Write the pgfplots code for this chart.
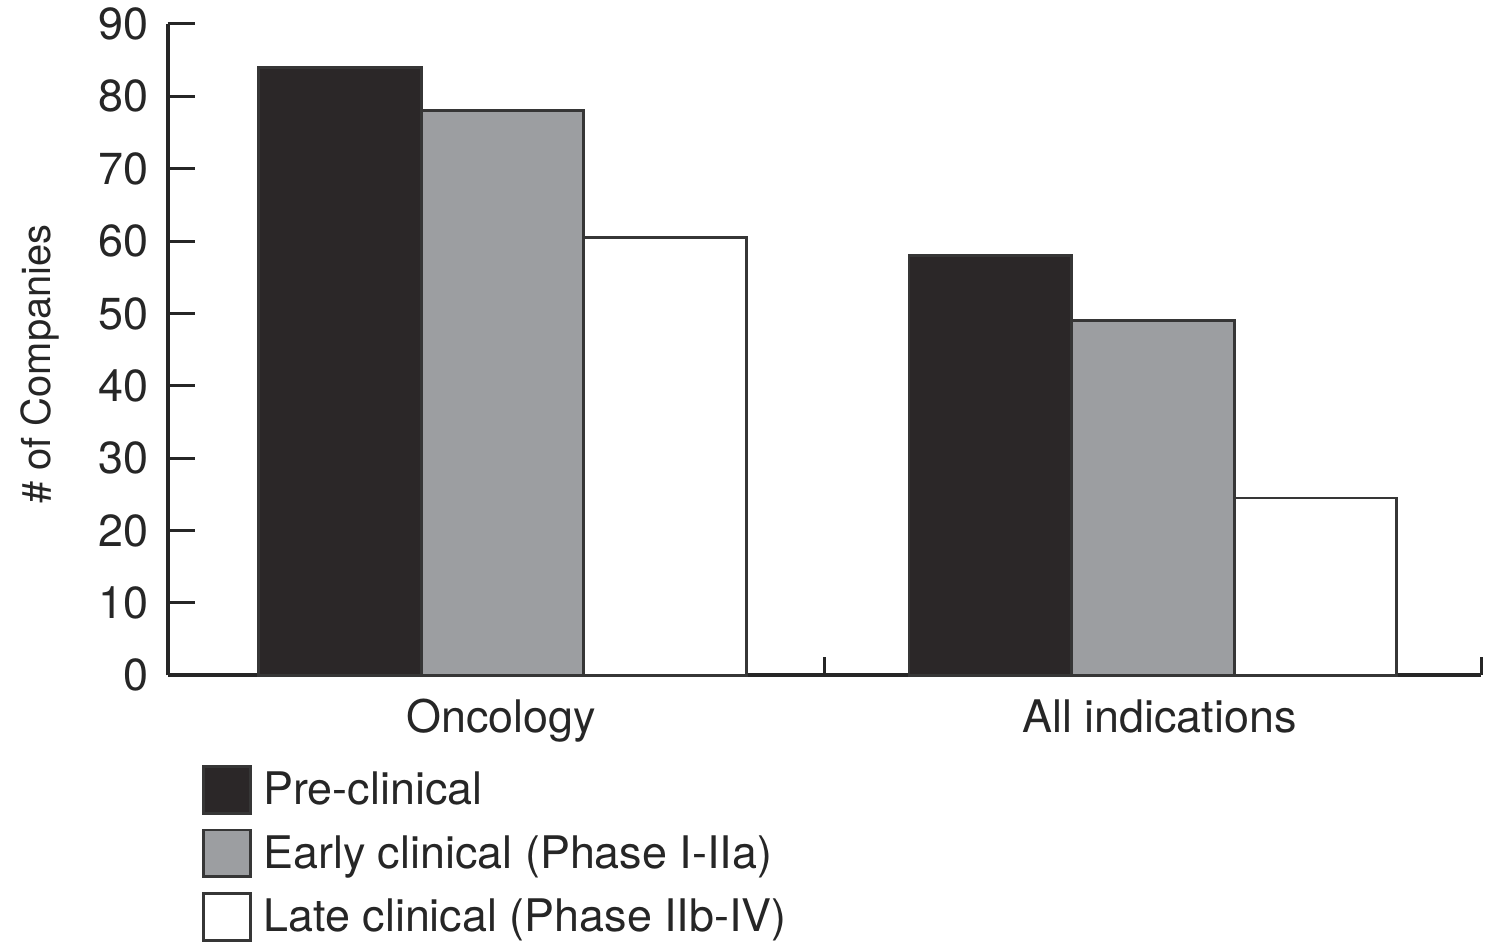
\documentclass[border=0pt]{standalone}
\usepackage{pgfplots}
\pgfplotsset{compat=1.18}
\usepackage{fontspec}
\setmainfont{TeX Gyre Heros}
\definecolor{barblack}{HTML}{2B2728}
\definecolor{bargray}{HTML}{9C9EA1}
\definecolor{edge}{HTML}{363636}
\definecolor{ink}{HTML}{262626}

\begin{document}
\begin{tikzpicture}
\begin{axis}[
  scale only axis,
  width=658.5pt, height=326.5pt,
  xmin=-0.5, xmax=1.5,
  ymin=0, ymax=90,
  clip=false,
  axis x line=bottom, axis y line=left,
  axis line style={-, ink, line width=2pt},
  ytick={0,10,...,90},
  xtick={0.008,1.01},
  xticklabels={Oncology, All indications},
  extra x ticks={0.5,1.5},
  extra x tick labels={},
  extra x tick style={major tick length=9pt, x tick style={draw=ink}},
  x tick style={draw=none},
  major tick length=13.5pt,
  tick align=inside,
  tick style={ink, line width=1.5pt},
  /pgf/number format/assume math mode=true,
  ticklabel style={font=\fontsize{22.5}{27}\selectfont, text=ink},
  yticklabel style={xshift=-6pt},
  xticklabel style={yshift=-8.5pt},
  ylabel={\# of Companies},
  ylabel style={at={(rel axis cs:-0.0972,0.478)}, anchor=center, rotate=0,
    font=\fontsize{20}{24}\selectfont, text=ink},
  legend image code/.code={
    \draw[#1, line width=1.4pt] (0pt,-11.75pt) rectangle (23.5pt,11.75pt);
  },
  legend cell align=left,
  legend style={
    at={(rel axis cs:0.0258,-0.137)}, anchor=north west,
    draw=none, fill=none, inner sep=0pt,
    font=\fontsize{22.5}{27}\selectfont, text=ink,
    row sep=7pt,
    nodes={inner sep=0pt},
    /tikz/every odd column/.append style={column sep=6pt},
  },
]
\addplot[ybar, bar width=0.2475, bar shift=-0.2475,
  fill=barblack, draw=edge, line width=1.4pt]
  coordinates {(0.01,84) (1,58)};
\addlegendentry{Pre-clinical}
\addplot[ybar, bar width=0.2475, bar shift=0,
  fill=bargray, draw=edge, line width=1.4pt]
  coordinates {(0.01,78) (1,49)};
\addlegendentry{Early clinical (Phase I-IIa)}
\addplot[ybar, bar width=0.2475, bar shift=0.2475,
  fill=white, draw=edge, line width=1.4pt]
  coordinates {(0.01,60.5) (1,24.5)};
\addlegendentry{Late clinical (Phase IIb-IV)}
% page frame around the plot, labels and legend
\path (rel axis cs:-0.12756,-0.39357) rectangle (rel axis cs:1.00228,1.03675);
\end{axis}
\end{tikzpicture}
\end{document}
